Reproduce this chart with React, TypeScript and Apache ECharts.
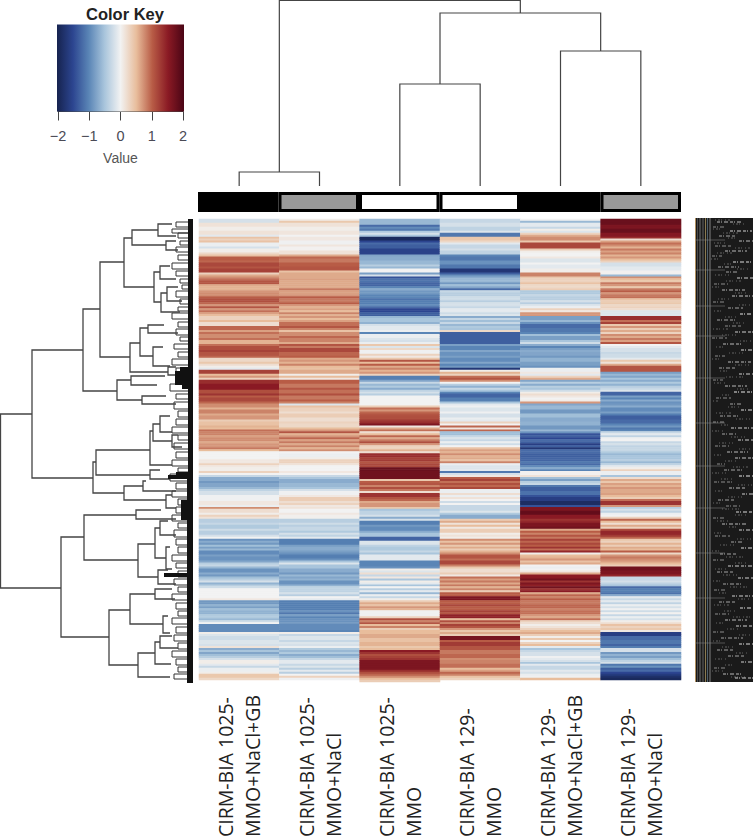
import React, { useEffect, useRef } from "react";
import * as echarts from "echarts";

const sampleLabels = [
  "CIRM-BIA 1025-\nMMO+NaCl+GB",
  "CIRM-BIA 1025-\nMMO+NaCl",
  "CIRM-BIA 1025-\nMMO",
  "CIRM-BIA 129-\nMMO",
  "CIRM-BIA 129-\nMMO+NaCl+GB",
  "CIRM-BIA 129-\nMMO+NaCl",
];

type Run = [number, number];
const col1: Run[] = [[2,-.2],[2,.15],[2,.05],[2,.15],[1,-.1],[1,.45],[1,.3],[1,.45],[2,-.05],[1,-.2],[2,.05],[1,.25],[1,.45],[2,1.0],[1,.95],[2,1.15],[1,1.05],[2,1.2],[1,.3],[1,.6],[1,.75],[1,.9],[2,1.05],[1,.6],[2,.55],[1,.7],[2,.75],[1,1.0],[2,1.1],[1,.95],[1,.7],[1,1.05],[1,.7],[1,.9],[1,.65],[1,.5],[2,.3],[1,.5],[2,.2],[2,.95],[1,.65],[1,.9],[2,.75],[1,.9],[2,.55],[1,.9],[2,1.1],[1,1.2],[2,1.05],[1,.95],[2,.25],[1,.4],[1,.2],[1,.05],[1,-.1],[2,1.2],[1,.5],[1,.7],[1,.3],[2,1.35],[3,1.5],[2,1.1],[1,1.3],[1,1.0],[2,1.15],[1,.95],[2,.75],[1,.55],[2,.8],[1,.6],[2,.7],[1,.35],[2,.45],[1,.55],[1,.5],
  [1,.9],[2,.8],[1,.65],[2,.75],[1,.6],[2,.7],[1,.85],[1,.5],[4,0],[2,.1],[1,.3],[1,.1],[2,.05],[1,.3],[1,0],[1,-.3],[2,-.7],[1,-.85],[2,-.75],[1,-.6],[1,-.35],[2,-.2],[3,-.02],[2,.1],[1,-.05],[1,.75],[2,.2],[1,.05],[1,.3],[1,.15],[2,-.4],[1,-.3],[2,-.45],[1,-.25],[2,-.4],[1,-.2],[1,0],[1,-.9],[1,-.7],[1,-.85],[1,-.55],[1,-.8],[1,-.6],[2,-.95],[1,-.8],[2,-.9],[1,-.75],[1,-.4],[1,-.3],[1,-.6],[2,-.9],[1,-.7],[1,-.85],[1,-.55],[1,-.4],[1,-.2],[1,-.65],[1,-.4],[1,-.25],[5,0],[1,.1],[2,-.85],[1,-.65],[1,-.8],[1,-.55],[2,-.65],[2,-.45],[1,-.6],[1,-.25],[1,0],[4,-.95],[1,.05],[1,-.15],[2,-.25],[2,-.15],[1,-.2],[1,.15],[1,-.7],[1,-.5],[1,-.75],[1,-.55],[1,-.4],[1,-.2],[2,.05],[1,-.1],[1,-.3],[2,-.05],[1,.05],[2,.4],[1,.25]];
const col2: Run[] = [[1,.05],[1,.4],[2,.15],[2,.05],[2,.12],[1,0],[2,.1],[2,-.02],[1,.12],[2,.02],[2,.15],[1,.6],[1,.95],[2,.85],[2,1.0],[2,1.05],[1,.45],[3,.6],[1,.65],[4,.6],[1,.85],[2,.65],[1,.7],[1,1.0],[2,.85],[1,1.0],[1,.7],[1,.55],[1,.65],[1,.5],[1,.8],[1,.55],[1,.7],[1,.5],[1,.65],[2,.9],[1,1.05],[1,.8],[1,.45],[2,.75],[1,.95],[2,.8],[1,.6],[1,1.05],[1,.85],[2,1.15],[2,.95],[1,1.0],[1,.6],[1,.7],[1,.55],[1,.8],[1,.5],[1,.45],[2,.6],[1,.05],[1,.5],[1,.1],[2,1.0],[2,.85],[1,1.05],[2,.9],[1,1.1],[2,.85],[1,1.0],[1,.8],[1,-.15],[1,.45],[2,.3],[1,.2],[2,.35],[2,.2],[1,.3],[2,.25],[1,.5],
  [1,.7],[1,1.05],[1,.55],[1,.7],[1,.95],[1,.65],[1,.85],[1,.6],[1,.8],[1,.55],[1,.75],[1,0],[2,-.05],[1,.05],[2,.3],[1,.15],[3,0],[1,.1],[1,0],[1,-.3],[1,-.5],[2,-.7],[2,-.6],[1,-.5],[1,-.2],[2,-.02],[1,.1],[2,.35],[1,.2],[1,.3],[1,.1],[1,.15],[2,0],[1,.1],[2,.03],[2,-.4],[1,-.25],[1,-.4],[2,-.3],[1,-.45],[1,-.2],[1,-.35],[1,-.1],[3,-1.05],[1,-.8],[2,-.7],[1,-.8],[1,-.9],[2,-1.05],[1,-.9],[1,-.5],[1,-.15],[2,-.5],[2,-.7],[1,-.85],[1,-.6],[1,-.75],[1,-.65],[2,-.9],[1,-.65],[1,-.35],[2,-.35],[1,-.2],[1,-.4],[1,0],[1,-.1],[5,-1.05],[1,-.9],[1,-1.1],[1,-.8],[1,-1],[2,-.9],[1,-.85],[3,-.95],[1,-1.0],[1,.05],[1,-.3],[2,-.15],[1,-.3],[1,-.15],[1,-.2],[1,-.05],[1,-.45],[1,-.6],[1,-.45],[1,-.7],[1,-.55],[1,-.3],[2,-.1],[1,-.3],[1,-.15],[1,-.4],[1,-.1],[1,-.4],[1,0],[1,.3],[1,-.02]];
const col3: Run[] = [[3,-.6],[1,-1.2],[1,-.95],[1,-1.1],[1,-.45],[1,-.2],[1,-.5],[2,-1.9],[1,-1.5],[1,-1.2],[2,-1.3],[3,-1.55],[1,-.75],[2,-.7],[2,-.6],[1,-.4],[1,-.6],[2,0],[1,-.8],[1,-.2],[1,-1.4],[2,-1.15],[2,-1.25],[1,-1],[1,-.7],[2,-.85],[2,-1.0],[1,-1.15],[2,-1.05],[1,-.95],[1,-1.2],[2,-1.5],[2,-1.3],[1,-.6],[2,-.5],[1,-.65],[1,-.2],[2,-.1],[1,-.05],[1,-1.0],[2,-.05],[1,-.15],[1,-.2],[1,-.05],[1,.4],[1,-.15],[1,.25],[2,-.02],[1,.3],[1,.1],[1,.4],[1,1.05],[1,.5],[1,1.0],[1,.6],[1,.8],[1,.55],[1,.7],[1,.3],[2,-1.05],[1,-.75],[1,-.3],[1,-.6],[1,-.45],[1,-.7],[1,-.35],[1,-.2],[1,-.4],[5,0],[1,.35],[1,.9],[1,.7],[1,.95],[1,1.05],[2,1.1],[1,1.25],[1,1.35],[1,1.6],[1,.1],[1,.6],[1,.9],
  [1,.2],[1,.5],[1,.95],[1,.6],[1,.85],[1,1.1],[1,.7],[2,.3],[1,.55],[1,.2],[2,1.35],[1,1.2],[1,1.25],[1,1.05],[2,1.15],[2,1.75],[4,1.7],[1,.4],[1,1],[1,1.05],[1,.8],[1,1.1],[1,.85],[1,.2],[2,1.3],[1,1.05],[1,.95],[1,.6],[2,.7],[1,.4],[1,-.5],[2,-.35],[1,-.2],[1,-.7],[1,-.2],[2,-1.05],[1,-.85],[2,-.95],[1,-.7],[2,-.5],[2,-1.25],[2,-.15],[1,-.35],[2,-.45],[1,-.3],[1,-.5],[3,-.1],[3,-1.0],[1,-.9],[1,.05],[1,-.15],[1,.2],[1,-.3],[1,.1],[1,-.5],[1,.05],[1,-.1],[1,-.5],[1,0],[1,-.4],[1,-.1],[1,-.6],[1,-.05],[1,-.3],[1,.05],[1,.35],[1,.6],[1,.45],[1,.7],[1,.55],[3,-.02],[1,.3],[1,1.1],[1,.8],[1,1.05],[1,.5],[1,.8],[1,.35],[2,.5],[2,.6],[2,.45],[2,.55],[1,.4],[1,.5],[1,1.5],[1,1.3],[1,1.1],[1,1.2],[1,1.3],[5,1.6],[1,1.35],[1,1.1],[1,.95],[1,.75],[1,.5],[1,.35]];
const col4: Run[] = [[2,-.3],[2,-.2],[2,-.35],[1,-.15],[2,-1.1],[2,.4],[1,.25],[1,-.1],[2,-.3],[1,-.2],[2,-.35],[1,-1.0],[2,-1.1],[2,-.9],[2,-1.1],[2,-1.7],[1,-1.3],[1,-.9],[1,-.7],[2,-.6],[1,-.85],[1,-.55],[1,-.75],[1,-1.2],[1,-.3],[2,-.4],[2,-.25],[1,-.4],[2,-.2],[1,-.3],[2,-.1],[1,-.25],[1,-.15],[1,-.7],[1,-.3],[1,-.55],[1,-.3],[1,-.6],[1,-.45],[1,-.5],[1,.25],[6,-1.3],[1,-.8],[2,-1.0],[1,-.75],[2,-.9],[1,-.8],[2,-.95],[1,-.75],[1,-1],[1,-.85],[1,-1.7],[1,.05],[1,.55],[1,.3],[1,.9],[1,1.05],[1,.75],[1,0],[1,-.4],[1,-.65],[1,-.3],[1,-.5],[1,-1.0],[2,-1.25],[2,-1.05],[1,-.5],[1,-.1],[1,-.02],[2,-.15],[1,-.02],[2,-.2],[1,-.05],[1,-.1],[1,.3],[1,0],[1,.95],[1,.1],
  [1,.95],[2,-.55],[1,-.3],[1,-.15],[1,-.3],[1,-.05],[1,-.25],[1,0],[1,.45],[1,.65],[1,.55],[1,.75],[1,.55],[1,.6],[1,.45],[1,.8],[1,-.05],[2,-.15],[1,-.1],[1,-1.1],[1,-.2],[1,.1],[1,1.0],[1,1.2],[1,.9],[1,1.1],[1,.95],[1,1.15],[2,-.05],[1,.2],[1,-.05],[1,.15],[1,0],[1,-.25],[1,0],[1,-.3],[2,-.3],[1,-.15],[1,-.45],[2,-.7],[1,.35],[1,.6],[1,.15],[1,.5],[1,.1],[2,.35],[1,.05],[1,.15],[1,.05],[1,.75],[1,.45],[1,.7],[1,.4],[1,.6],[1,.35],[1,.55],[1,.75],[2,1.05],[1,.9],[2,1.15],[1,.8],[1,.4],[2,.2],[1,.35],[1,.1],[1,.9],[1,.65],[1,.85],[1,.6],[1,.85],[1,.55],[1,.8],[1,.35],[2,1.0],[2,1.6],[2,1.0],[1,1.15],[2,1.0],[1,1.2],[1,1.05],[2,1.45],[1,.5],[1,1.1],[1,.8],[1,1.2],[1,1.05],[1,.7],[1,.4],[1,.6],[1,.35],[2,1.65],[1,1.0],[2,1.25],[1,1.05],[1,1.05],[2,.85],[2,.95],[1,.75],[2,.8],[2,.9],[1,.5],[1,.65],[1,.95],[1,.8],[1,.45],[1,.3]];
const col5: Run[] = [[1,0],[1,-.6],[2,-.1],[1,-.3],[1,.05],[1,-.15],[1,.3],[1,.6],[2,.75],[1,.4],[3,1.15],[1,.35],[1,.05],[2,0],[1,.1],[2,-.15],[1,0],[2,-.1],[2,.05],[2,.8],[1,.4],[2,.3],[1,.45],[2,.25],[1,.35],[2,-.45],[1,-.3],[2,-.4],[1,-.2],[1,-.4],[1,-.15],[1,-.05],[1,.3],[1,.1],[2,.7],[2,-.8],[1,-.6],[1,-.9],[2,-1.2],[2,-1.1],[1,-1.0],[1,-.55],[2,-.8],[1,-.5],[1,-.25],[1,-.7],[1,-1.0],[1,-.8],[1,-.7],[2,-.75],[1,-.85],[2,-.65],[2,-.8],[1,-.9],[2,-.05],[1,.1],[1,-.1],[1,.3],[1,.6],[1,-.75],[1,-.4],[1,-.7],[1,-.4],[1,-.5],[1,-.25],[1,.05],[1,.2],[1,.1],[1,0],[1,.05],[1,.7],[1,-.75],[2,-.6],[2,-.85],[2,-.55],[2,-.7],[2,-.65],[2,-.85],
  [1,-.6],[1,-.9],[1,-1.4],[1,-1.3],[1,-1.5],[1,-1.2],[1,-1.3],[1,-1.6],[1,-1.3],[1,-1.7],[1,-1.2],[1,-1.2],[2,-1.3],[2,-1.25],[1,-1.1],[1,-1.2],[1,-.95],[1,-.7],[1,-1.0],[2,.02],[1,.15],[1,-.55],[1,-.8],[1,-.4],[1,-.3],[1,-1.1],[2,-1.3],[2,-1.15],[1,-1.4],[2,-1.6],[2,-1.85],[1,-1.4],[2,1.6],[2,1.8],[2,1.5],[1,1.3],[1,1.4],[2,1.6],[1,1.7],[1,.6],[1,1.0],[1,.8],[1,1.05],[1,.85],[1,1.2],[1,.95],[1,1.15],[1,1.0],[1,1.3],[1,.9],[1,1.4],[1,.05],[1,.5],[1,.55],[1,.7],[1,.45],[1,.6],[1,0],[1,-.05],[1,0],[1,.1],[1,.6],[2,1.5],[1,1.7],[1,1.3],[1,1.6],[1,1.45],[1,1.7],[1,1.3],[1,1.5],[1,.6],[1,.95],[1,.8],[1,1.0],[2,.85],[2,.95],[1,.8],[2,.9],[1,.7],[1,.6],[1,.9],[1,.3],[1,.2],[1,.05],[1,.15],[1,.3],[1,.5],[1,.6],[1,.35],[1,.05],[1,.4],[1,0],[1,.3],[1,.5],[1,-.1],[1,-.5],[1,-.3],[2,-.2],[1,-.02],[1,-.1],[1,-.2],[1,-.5],[1,-.1],[1,-.3],[1,-.3],[1,-.1],[1,-.2],[1,-.05],[1,-.02],[1,.5]];
const col6: Run[] = [[3,1.75],[2,1.6],[2,1.75],[2,1.55],[1,1.35],[1,.2],[1,.65],[1,.9],[1,.75],[1,.55],[1,.85],[1,.65],[1,.8],[1,.55],[1,.7],[1,.5],[1,.3],[2,-.2],[2,-.1],[2,.02],[1,-.6],[1,.75],[1,.5],[1,.4],[1,.85],[1,.7],[1,.4],[1,.85],[1,1.0],[1,.7],[1,.85],[1,.9],[1,.45],[1,.35],[1,.4],[1,.25],[1,.3],[1,.2],[3,-.15],[2,1.35],[1,.9],[1,1.2],[1,.4],[1,.7],[1,.35],[1,.6],[1,.3],[1,.75],[1,.6],[1,.85],[1,.65],[1,1.05],[1,0],[1,-.1],[2,-.2],[1,-.3],[2,-.25],[1,-.1],[1,.4],[1,.15],[1,.6],[3,1.05],[1,-.8],[1,-.6],[1,-.75],[1,-.5],[1,-.7],[1,-.45],[1,-.65],[1,-.4],[1,-.3],[1,-.15],[2,-1.25],[1,-.8],[1,-1.0],[1,-.7],[1,-.9],[1,-.85],[1,-.7],[2,-.95],[1,-.8],[1,-1.05],[2,-1.3],[2,-1.2],[1,-1.0],[1,-.85],[1,-1.1],
  [1,-1.0],[1,-.3],[1,-.1],[1,-.35],[1,-.02],[1,0],[1,-.3],[1,-.2],[1,-.35],[2,-.3],[1,-.45],[1,-.6],[2,-.5],[1,-.4],[1,-.6],[1,-.35],[1,-.1],[1,.05],[1,.3],[1,-.05],[1,-.05],[1,-.5],[1,.2],[1,.6],[1,.4],[1,.65],[1,.55],[1,.7],[2,.6],[1,.65],[1,.5],[1,.35],[1,.9],[2,1.3],[1,.7],[1,-.4],[1,-.2],[1,-.35],[1,-.05],[1,0],[1,.3],[1,.95],[1,.5],[1,.2],[1,.6],[1,.3],[1,1.1],[2,1.4],[1,1.25],[1,.95],[1,.4],[1,.3],[1,.55],[1,.35],[1,.6],[1,.5],[1,1.0],[1,.25],[1,.7],[1,.85],[1,.75],[1,.65],[1,.5],[1,.35],[2,1.7],[2,1.6],[1,1.4],[2,-.3],[1,-.2],[1,-.35],[1,-.5],[1,-1.2],[2,-1.05],[1,-1.15],[1,-.7],[1,-.1],[1,-.3],[1,-.1],[1,-.35],[1,-.05],[1,-.2],[1,-.02],[1,-.25],[1,.02],[1,-.3],[1,-.05],[1,-.2],[1,.05],[1,.2],[1,.45],[1,.3],[1,.4],[1,.1],[2,-1.6],[2,-1.2],[2,-1.1],[1,-1.25],[1,-1.05],[2,-.2],[1,-.85],[1,-.65],[1,-.8],[1,-.55],[1,-.35],[1,-.2],[1,-1.1],[1,-.9],[1,-1.3],[1,-1.2],[1,-1.5],[1,-1.65],[1,-1.8],[1,-1.9]];
const columns = [col1, col2, col3, col4, col5, col6];

const keyColors = ["#16234f","#2c4590","#5a85b6","#a9c5dc","#f2f2f2","#e8bd9c","#b85c46","#8a1a24","#4a0515"];
const sampleGroupColors = ["#000000","#999999","#ffffff","#ffffff","#000000","#999999"];

// column dendrogram: [x top branch, x bottom branch, merge height, left child height, right child height]
const colMerges = [
  [0.5, 1.5, 14, 0, 0],
  [2.5, 3.5, 102, 0, 0],
  [4.5, 5.5, 135, 0, 0],
  [3.0, 5.0, 173, 102, 135],
  [1.0, 4.0, 185.5, 14, 173],
];
// row dendrogram: [distance, row pos a, row pos b, distance a, distance b]
const rowMerges = [
  [0.5,195,369,32,61],[32,131,259,83,93],[83,90,172,100,117],[100,43,138,124,130],[124,19,68,132,154],[132,11,26,158,166],[158,5,17,172,176],[166,22,31,176,178],[154,53,83,160,161],[160,47,60,170,176],[161,74,93,167,180],[167,68,82,178,182],[130,124,153,140,168],[140,109,137,148,153],[148,106,114,164,178],[153,128,147,163,170],[168,148,156,176,180],[117,161,181,131,142],[131,157,166,165,157],[142,177,185,166,176],[93,243,274,96,124],[96,231,256,150,150],[150,212,246,153,172],[153,205,222,160,172],[160,197,213,170,172],[172,216,228,178,182],[150,251,260,160,170],[124,267,281,143,166],[143,262,272,146,176],[166,276,289,172,176],[61,318,418,84,109],[84,296,341,136,138],[136,291,300,161,176],[138,325,358,155,158],[155,309,339,160,166],[160,302,316,168,176],[166,328,350,170,172],[158,351,365,168,176],[109,391,446,130,138],[130,375,405,155,163],[155,370,380,172,175],[163,397,414,168,170],[138,434,458,155,170],[155,423,445,160,171],[160,417,429,172,178],
];
const rowTips = [[176,3,8],[172,10,14],[178,14,19],[180,22,26],[176,28,33],[178,36,41],[172,44,50],[176,52,57],[180,60,64],[182,66,70],[176,72,78],[180,80,85],[178,88,92],[172,94,100],[178,103,108],[176,110,116],[180,118,122],[174,125,130],[178,133,138],[172,140,146],[176,149,154],[178,157,163],[170,165,172],[176,175,180],[174,183,190],[178,192,198],[176,200,206],[172,208,214],[178,216,221],[174,224,230],[176,233,239],[172,241,247],[178,249,253],[170,255,262],[176,264,270],[172,272,278],[178,280,286],[176,288,294],[172,296,302],[178,304,309],[174,311,318],[176,320,326],[178,328,334],[172,336,342],[176,344,349],[178,352,358],[174,360,366],[178,368,373],[172,375,381],[176,384,390],[178,392,397],[172,399,405],[176,408,414],[174,416,422],[178,424,430],[172,432,438],[176,440,446],[178,448,453],[174,455,460]];
const leafBands = [[0,148,188],[148,152,180],[152,166,175],[166,170,182],[170,253,188],[253,256,176],[256,260,168],[260,281,187],[281,301,181],[301,354,187],[354,358,164],[358,464,187]];

// illegible gene-label block: [row pos, start, end, brightness]
const labelDashes = [[4,22,46,.7],[9,18,30,.5],[13,35,57,.8],[18,24,40,.6],[23,44,58,.7],[28,20,36,.5],[33,30,52,.7],[38,17,27,.5],[44,38,57,.85],[49,23,44,.6],[54,31,42,.6],[60,42,58,.8],[66,19,33,.5],[72,27,50,.7],[78,37,58,.75],[84,18,29,.5],[90,33,48,.6],[96,45,58,.9],[102,22,40,.6],[108,30,46,.5],[114,40,58,.8],[120,17,32,.5],[126,28,47,.7],[132,46,58,.85],[138,20,30,.5],[144,33,56,.7],[150,24,41,.6],[156,44,58,.8],[162,18,28,.5],[168,30,52,.7],[174,39,58,.9],[180,21,36,.5],[186,35,48,.6],[192,46,58,.85],[198,25,44,.6],[204,18,31,.5],[210,36,58,.8],[216,27,41,.6],[222,43,58,.8],[228,20,34,.5],[234,32,53,.7],[240,40,58,.75],[246,22,30,.5],[252,29,48,.6],[258,44,58,.9],[264,19,37,.5],[270,34,50,.7],[276,47,58,.8],[282,23,39,.6],[288,31,45,.5],[294,41,58,.85],[300,18,30,.5],[306,27,52,.7],[312,44,58,.8],[318,20,35,.5],[324,36,49,.6],[330,46,58,.85],[336,25,42,.6],[342,18,29,.5],[348,33,58,.8],[354,22,38,.6],[360,43,58,.8],[366,28,46,.6],[372,19,31,.5],[378,37,58,.8],[384,24,40,.6],[390,45,58,.85],[396,20,34,.5],[402,30,52,.7],[408,41,58,.8],[414,18,30,.5],[420,26,48,.6],[426,44,58,.85],[432,22,38,.6],[438,33,50,.6],[444,46,58,.8],[450,19,32,.5],[456,28,47,.7],[460,40,58,.8]];
const labelSpecks = [[2,20,35],[6,38,50],[11,18,26],[15,28,44],[20,33,41],[25,19,31],[30,40,56],[35,22,38],[41,16,24],[46,29,37],[51,42,55],[57,20,34],[63,31,47],[69,17,25],[75,40,52],[81,23,35],[87,44,57],[93,19,28],[99,30,43],[105,38,50],[111,18,33],[117,27,41],[123,45,56],[129,21,29],[135,34,48],[141,17,26],[147,40,54],[153,25,33],[159,31,49],[165,19,30],[171,42,53],[177,27,36],[183,18,24],[189,33,45],[195,21,37],[201,41,55],[207,26,34],[213,17,29],[219,36,50],[225,24,38],[231,44,56],[237,19,27],[243,30,42],[249,38,53],[255,17,31],[261,26,37],[267,43,57],[273,20,30],[279,33,47],[285,18,25],[291,27,44],[297,40,52],[303,22,35],[309,34,42],[315,19,28],[321,42,56],[327,25,39],[333,17,27],[339,31,48],[345,40,53],[351,20,33],[357,28,42],[363,18,26],[369,35,52],[375,24,31],[381,43,56],[387,19,34],[393,29,41],[399,38,55],[405,21,30],[411,32,45],[417,44,56],[423,18,28],[429,27,40],[435,41,54],[441,20,33],[447,30,38],[453,17,29],[459,36,50]];
const labelStripes = [[0.5,"#b09060"],[2.5,"#4a4a4a"],[5,"#707070"],[8,"#606060"],[10.5,"#8a7a50"],[12.5,"#50606a"],[15,"#808080"]] as [number,string][];
const labelLightRows = [22,52,88,118,160,205,248,290,335,380,425];

const FONT = "'Liberation Sans', Arial, sans-serif";

function bracket(api: any, pts: number[][], lineWidth: number, stroke: string) {
  return {
    type: "polyline",
    shape: { points: pts.map((p) => api.coord(p)) },
    style: { stroke, fill: "none", lineWidth },
  };
}

export default function App() {
  const ref = useRef<HTMLDivElement>(null);
  useEffect(() => {
    const chart = echarts.init(ref.current!, null, { renderer: "svg" });
    const cells: number[][] = [];
    columns.forEach((runs, c) => {
      let r = 0;
      runs.forEach(([n, v]) => {
        for (let i = 0; i < n; i++) cells.push([c, r++, v]);
      });
    });
    const rowCount = Math.max(...cells.map((d) => d[1])) + 1;
    const hidden = { show: false };
    chart.setOption({
      animation: false,
      backgroundColor: "#ffffff",
      title: {
        text: "Color Key", left: 120, top: 0, textAlign: "center",
        textStyle: { fontFamily: FONT, fontSize: 16.5, fontWeight: "bold", color: "#222" },
      },
      visualMap: { show: false, type: "continuous", min: -2, max: 2, dimension: 2, seriesIndex: 0, inRange: { color: keyColors } },
      grid: [
        { left: 199, top: 219, width: 482, height: 464 },
        { left: 58, top: 24.5, width: 125, height: 87 },
        { left: 198, top: 192, width: 483, height: 20 },
        { left: 199, top: 0, width: 482, height: 186 },
        { left: 0, top: 219, width: 193, height: 464 },
        { left: 695, top: 218, width: 58, height: 464 },
      ],
      xAxis: [
        {
          type: "category", gridIndex: 0, data: sampleLabels,
          axisLine: hidden, axisTick: hidden, splitLine: hidden,
          axisLabel: {
            interval: 0, rotate: 90, align: "left", verticalAlign: "middle", margin: 155,
            fontFamily: "'Open Sans', sans-serif", fontSize: 19.5, lineHeight: 27, color: "#222",
          },
        },
        {
          type: "value", gridIndex: 1, min: -2, max: 2, interval: 1, position: "bottom",
          axisLine: { show: true, onZero: false, lineStyle: { color: "#444", width: 1 } },
          axisTick: { show: true, length: 9, lineStyle: { color: "#444" } },
          splitLine: hidden,
          axisLabel: {
            margin: 17, fontFamily: FONT, fontSize: 14.5, color: "#4a4a55",
            formatter: (v: number) => (v < 0 ? "\u2212" + Math.abs(v) : String(v)),
          },
          name: "Value", nameLocation: "middle", nameGap: 39,
          nameTextStyle: { fontFamily: FONT, fontSize: 14, color: "#555" },
        },
        { type: "category", gridIndex: 2, data: sampleLabels, show: false },
        { type: "value", gridIndex: 3, min: 0, max: 6, show: false },
        { type: "value", gridIndex: 4, min: 0, max: 193, show: false },
        { type: "value", gridIndex: 5, min: 0, max: 58, show: false },
      ],
      yAxis: [
        { type: "category", gridIndex: 0, inverse: true, show: false, data: Array.from({ length: rowCount }, (_, i) => String(i)) },
        { type: "value", gridIndex: 1, min: 0, max: 1, show: false },
        { type: "value", gridIndex: 2, min: 0, max: 1, show: false },
        { type: "value", gridIndex: 3, min: 0, max: 186, show: false },
        { type: "value", gridIndex: 4, min: 0, max: 464, inverse: true, show: false },
        { type: "value", gridIndex: 5, min: 0, max: 464, inverse: true, show: false },
      ],
      series: [
        {
          type: "heatmap", xAxisIndex: 0, yAxisIndex: 0, data: cells, progressive: 0, silent: true,
          itemStyle: { borderWidth: 0 }, emphasis: { disabled: true },
        },
        {
          type: "custom", xAxisIndex: 1, yAxisIndex: 1, silent: true, clip: false, data: [[-2, 2]],
          renderItem: (_: any, api: any) => {
            const a = api.coord([api.value(0), 1]);
            const b = api.coord([api.value(1), 0]);
            return {
              type: "rect",
              shape: { x: a[0] - 1, y: a[1], width: b[0] - a[0] + 2, height: b[1] - a[1] },
              style: { fill: new echarts.graphic.LinearGradient(0, 0, 1, 0, keyColors.map((color, i) => ({ offset: i / (keyColors.length - 1), color }))) },
            };
          },
        },
        {
          type: "bar", xAxisIndex: 2, yAxisIndex: 2, barWidth: "100%", silent: true,
          data: sampleGroupColors.map((color) => ({ value: 1, itemStyle: { color, borderColor: "#000", borderWidth: 3 } })),
        },
        {
          type: "custom", xAxisIndex: 3, yAxisIndex: 3, silent: true, clip: false, data: colMerges,
          renderItem: (_: any, api: any) => {
            const [x0, x1, h, h0, h1] = [0, 1, 2, 3, 4].map((i) => api.value(i));
            return bracket(api, [[x0, h0], [x0, h], [x1, h], [x1, h1]], 1.2, "#444");
          },
        },
        {
          type: "custom", xAxisIndex: 4, yAxisIndex: 4, silent: true, clip: false, data: rowTips,
          renderItem: (_: any, api: any) => {
            const [x, y0, y1] = [0, 1, 2].map((i) => api.value(i));
            return bracket(api, [[190, y0], [x, y0], [x, y1], [190, y1]], 1, "#333");
          },
        },
        {
          type: "custom", xAxisIndex: 4, yAxisIndex: 4, silent: true, clip: false, data: rowMerges,
          renderItem: (_: any, api: any) => {
            const [x, y0, y1, x0, x1] = [0, 1, 2, 3, 4].map((i) => api.value(i));
            return bracket(api, [[x0, y0], [x, y0], [x, y1], [x1, y1]], 1.3, "#444");
          },
        },
        {
          type: "custom", xAxisIndex: 4, yAxisIndex: 4, silent: true, clip: false, data: leafBands,
          renderItem: (_: any, api: any) => {
            const a = api.coord([api.value(2), api.value(0)]);
            const b = api.coord([193, api.value(1)]);
            return { type: "rect", shape: { x: a[0], y: a[1], width: b[0] - a[0], height: b[1] - a[1] }, style: { fill: "#111" } };
          },
        },
        {
          type: "custom", xAxisIndex: 5, yAxisIndex: 5, silent: true, clip: false, data: [[0, 58, 0, 464]],
          renderItem: (_: any, api: any) => {
            const a = api.coord([api.value(0), api.value(2)]);
            const b = api.coord([api.value(1), api.value(3)]);
            return { type: "rect", shape: { x: a[0], y: a[1], width: b[0] - a[0], height: b[1] - a[1] }, style: { fill: "#1a1a1a" } };
          },
        },
        {
          type: "custom", xAxisIndex: 5, yAxisIndex: 5, silent: true, clip: false,
          data: labelStripes.map((s, i) => [s[0], i]),
          renderItem: (_: any, api: any) => {
            const i = api.value(1);
            const a = api.coord([api.value(0), 0]);
            const b = api.coord([api.value(0), 464]);
            return { type: "line", shape: { x1: a[0], y1: a[1], x2: b[0], y2: b[1] }, style: { stroke: labelStripes[i][1], lineWidth: 1 } };
          },
        },
        {
          type: "custom", xAxisIndex: 5, yAxisIndex: 5, silent: true, clip: false,
          data: labelLightRows.map((r) => [r]),
          renderItem: (_: any, api: any) => {
            const a = api.coord([0, api.value(0)]);
            const b = api.coord([30, api.value(0)]);
            return { type: "line", shape: { x1: a[0], y1: a[1], x2: b[0], y2: b[1] }, style: { stroke: "#8c8c8c", lineWidth: 1, opacity: 0.5 } };
          },
        },
        {
          type: "custom", xAxisIndex: 5, yAxisIndex: 5, silent: true, clip: false, data: labelSpecks,
          renderItem: (_: any, api: any) => {
            const a = api.coord([api.value(1), api.value(0)]);
            const b = api.coord([api.value(2), api.value(0)]);
            return { type: "line", shape: { x1: a[0], y1: a[1], x2: b[0], y2: b[1] }, style: { stroke: "#bbbbbb", lineWidth: 1, opacity: 0.45, lineDash: [1, 2, 2, 1, 1, 3] } };
          },
        },
        {
          type: "custom", xAxisIndex: 5, yAxisIndex: 5, silent: true, clip: false, data: labelDashes,
          renderItem: (_: any, api: any) => {
            const a = api.coord([api.value(1), api.value(0)]);
            const b = api.coord([api.value(2), api.value(0)]);
            return { type: "line", shape: { x1: a[0], y1: a[1], x2: b[0], y2: b[1] }, style: { stroke: "#ffffff", lineWidth: 1, opacity: api.value(3), lineDash: [3, 1, 1, 2, 4, 2] } };
          },
        },
      ],
    });
    return () => chart.dispose();
  }, []);
  return <div ref={ref} style={{ position: "absolute", left: 0, top: 0, width: 753, height: 840 }} />;
}
